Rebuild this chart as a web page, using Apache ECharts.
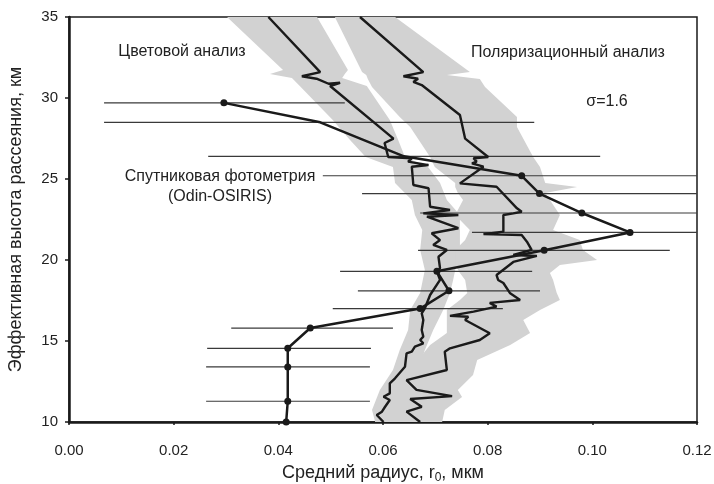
<!DOCTYPE html>
<html><head><meta charset="utf-8">
<script src="https://cdn.jsdelivr.net/npm/echarts@6/dist/echarts.min.js"></script>
<style>html,body{margin:0;padding:0;background:#fff}#c{width:714px;height:484px}</style>
</head><body><div id="c"></div>
<script>
// ---- tick labels ----
const xTickLabels = ['0.00','0.02','0.04','0.06','0.08','0.10','0.12'];
const yTickLabels = ['10','15','20','25','30','35'];

// ---- satellite photometry (Odin-OSIRIS): radius, altitude, error bar ends ----
const satR = [0.0296,0.0480,0.0640,0.0865,0.0899,0.0980,0.1072,0.0908,0.0703,0.0726,0.0671,0.0461,0.0418,0.0418,0.0418,0.0415];
const satH = [29.7,28.5,26.4,25.2,24.1,22.9,21.7,20.6,19.3,18.1,17.0,15.8,14.55,13.4,11.28,10.0];
const satErrLow  = [0.0067,0.0067,0.0266,0.0485,0.0560,0.0671,0.0770,0.0667,0.0518,0.0552,0.0504,0.0310,0.0264,0.0262,0.0262,null];
const satErrHigh = [0.0527,0.0889,0.1015,0.1245,0.1240,0.1290,0.1375,0.1148,0.0885,0.0900,0.0829,0.0619,0.0577,0.0575,0.0575,null];
const satDot = [1,0,0,1,1,1,1,1,1,1,1,1,1,1,1,1];

// ---- colour analysis profile [radius, altitude] ----
const colorProfile = [[0.0381,35.0],[0.0480,31.60],[0.0445,31.34],[0.0473,31.19],[0.0496,30.88],[0.0518,30.94],[0.0499,30.74],[0.0620,27.49],[0.0603,27.22],[0.0610,26.36],[0.0655,26.28],[0.0648,26.07],[0.0687,25.86],[0.0655,25.76],[0.0658,24.63],[0.0687,24.43],[0.0690,23.29],[0.0728,23.09],[0.0677,22.88],[0.0744,22.78],[0.0684,22.67],[0.0744,21.96],[0.0693,21.65],[0.0709,21.23],[0.0696,20.93],[0.0722,20.62],[0.0706,20.20],[0.0709,19.49],[0.0703,19.28],[0.0709,18.77],[0.0690,17.84],[0.0680,17.02],[0.0674,16.71],[0.0677,16.30],[0.0674,15.68],[0.0677,15.27],[0.0671,15.06],[0.0677,14.86],[0.0661,14.65],[0.0655,14.34],[0.0645,14.24],[0.0642,13.41],[0.0623,12.70],[0.0613,12.39],[0.0613,11.77],[0.0601,11.56],[0.0613,11.36],[0.0604,10.94],[0.0598,10.64],[0.0588,10.43],[0.0601,10.0]];

// ---- polarization analysis profile [radius, altitude] ----
const polarProfile = [[0.0556,35.0],[0.0677,31.60],[0.0639,31.34],[0.0667,31.19],[0.0658,30.99],[0.0674,30.80],[0.0747,28.95],[0.0757,27.49],[0.0801,26.36],[0.0773,26.28],[0.0779,26.07],[0.0770,25.97],[0.0792,25.76],[0.0747,24.73],[0.0817,24.52],[0.0856,23.19],[0.0865,22.98],[0.0849,22.88],[0.0830,22.78],[0.0830,21.75],[0.0792,21.60],[0.0865,21.54],[0.0875,21.13],[0.0884,20.62],[0.0849,20.31],[0.0894,20.25],[0.0849,19.88],[0.0817,19.07],[0.0820,18.77],[0.0830,18.58],[0.0843,17.94],[0.0862,17.53],[0.0804,17.35],[0.0817,17.12],[0.0773,16.81],[0.0728,16.55],[0.0763,16.50],[0.0757,16.30],[0.0804,15.48],[0.0785,15.06],[0.0728,14.55],[0.0718,14.34],[0.0722,13.21],[0.0645,12.59],[0.0664,11.98],[0.0732,11.60],[0.0652,11.42],[0.0674,10.94],[0.0645,10.64],[0.0671,10.0]];

// ---- uncertainty bands: altitude, left radius, right radius ----
const colBandH = [35.00,31.73,31.48,31.23,30.74,28.64,27.41,26.36,25.74,24.75,23.70,22.78,21.85,20.62,19.38,18.77,17.96,16.91,15.68,14.44,13.21,11.98,10.74,10.00];
const colBandL = [0.0302,0.0409,0.0384,0.0426,0.0441,0.0504,0.0537,0.0567,0.0619,0.0623,0.0655,0.0661,0.0675,0.0671,0.0680,0.0676,0.0671,0.0652,0.0648,0.0632,0.0619,0.0594,0.0579,0.0585];
const colBandR = [0.0474,0.0533,0.0527,0.0522,0.0569,0.0613,0.0629,0.0642,0.0686,0.0709,0.0722,0.0747,0.0747,0.0747,0.0738,0.0734,0.0728,0.0715,0.0696,0.0680,0.0667,0.0636,0.0623,0.0629];

const polBandH = [35.00,31.60,31.42,31.17,30.68,28.83,28.21,26.36,25.74,24.75,24.51,24.14,23.70,22.78,21.85,21.23,20.62,20.00,19.69,19.20,18.77,17.96,17.53,16.91,16.30,15.49,14.75,13.83,12.90,11.98,11.54,10.74,10.00];
const polBandL = [0.0508,0.0560,0.0568,0.0571,0.0579,0.0632,0.0652,0.0690,0.0699,0.0738,0.0738,0.0743,0.0753,0.0738,0.0766,0.0757,0.0738,0.0738,0.0738,0.0747,0.0757,0.0761,0.0747,0.0722,0.0722,0.0722,0.0690,0.0667,0.0642,0.0613,0.0604,0.0594,0.0604];
const polBandR = [0.0623,0.0766,0.0722,0.0785,0.0795,0.0856,0.0856,0.0887,0.0900,0.0910,0.0971,0.0910,0.0919,0.0938,0.0925,0.0976,0.0982,0.1009,0.0938,0.0919,0.0925,0.0932,0.0938,0.0900,0.0868,0.0881,0.0843,0.0780,0.0772,0.0743,0.0751,0.0718,0.0713];

const FONT = '"Liberation Sans", Arial, sans-serif';
const INK = '#1a1a1a';
const bands = [[colBandH, colBandL, colBandR],[polBandH, polBandL, polBandR]];

const chart = echarts.init(document.getElementById('c'), null, {renderer:'canvas'});

const errData = [];
satH.forEach((h,i)=>{ if(satErrLow[i]!=null) errData.push([satErrLow[i], satErrHigh[i], h]); });

function label(x, y, text){
  return {type:'text', z:100, style:{x:x, y:y, text:text, font:'16px '+FONT, fill:'#222', textAlign:'center', textVerticalAlign:'middle'}};
}

chart.setOption({
  animation: false,
  backgroundColor: '#fff',
  grid: {left:69, right:17, top:17, bottom:62, show:true, borderColor:INK, borderWidth:1.5,
         backgroundColor:'transparent', outerBoundsMode:'none', containLabel:false},
  xAxis: {
    type:'value', min:0, max:0.12, interval:0.02,
    axisLine:{show:true, onZero:false, lineStyle:{color:INK, width:2.5}},
    axisTick:{show:true, length:3, lineStyle:{color:INK, width:1.5}},
    splitLine:{show:false},
    axisLabel:{fontSize:15, color:'#222', fontFamily:FONT, margin:21,
      formatter:(v)=>xTickLabels[Math.round(v/0.02)]},
    name:'Средний радиус, r{sub|0}, мкм', nameLocation:'middle', nameGap:41,
    nameTextStyle:{fontSize:18, color:'#222', fontFamily:FONT,
      rich:{sub:{fontSize:12, verticalAlign:'bottom', padding:[9,0,0,0], fontFamily:FONT, color:'#222'}}}
  },
  yAxis: {
    type:'value', min:10, max:35, interval:5,
    axisLine:{show:true, onZero:false, lineStyle:{color:INK, width:2.5}},
    axisTick:{show:true, length:4, lineStyle:{color:INK, width:1.5}},
    splitLine:{show:false},
    axisLabel:{fontSize:15, color:'#222', fontFamily:FONT, margin:11,
      formatter:(v)=>yTickLabels[Math.round((v-10)/5)]},
    name:'Эффективная высота рассеяния, км', nameLocation:'middle', nameGap:44, nameRotate:90,
    nameTextStyle:{fontSize:18, color:'#222', fontFamily:FONT}
  },
  graphic: [
    label(182, 52, 'Цветовой анализ'),
    label(568, 53, 'Поляризационный анализ'),
    label(607, 102, 'σ=1.6'),
    label(220, 177, 'Спутниковая фотометрия'),
    label(220, 197, '(Odin-OSIRIS)')
  ],
  series: [
    {
      type:'custom', z:1, silent:true,
      data:[[0,10],[1,10]],
      encode:{x:-1, y:-1},
      renderItem:(params, api)=>{
        const b = bands[params.dataIndex];
        const H=b[0], L=b[1], R=b[2];
        const pts=[];
        for(let i=0;i<H.length;i++) pts.push(api.coord([L[i],H[i]]));
        for(let i=H.length-1;i>=0;i--) pts.push(api.coord([R[i],H[i]]));
        return {type:'polygon', shape:{points:pts}, style:{fill:'#d2d2d2', stroke:null}};
      }
    },
    {
      type:'custom', z:2, silent:true,
      data: errData,
      encode:{x:[0,1], y:2},
      renderItem:(params, api)=>{
        const cs = params.coordSys;
        const p1 = api.coord([api.value(0), api.value(2)]);
        const p2 = api.coord([api.value(1), api.value(2)]);
        const x1 = Math.max(cs.x, Math.min(cs.x+cs.width, p1[0]));
        const x2 = Math.max(cs.x, Math.min(cs.x+cs.width, p2[0]));
        return {type:'line', shape:{x1:x1, y1:p1[1], x2:x2, y2:p2[1]}, style:{stroke:'#3a3a3a', lineWidth:1.2}};
      }
    },
    {
      type:'line', z:3, data: colorProfile, showSymbol:false, silent:true,
      lineStyle:{color:INK, width:2.4}, clip:true
    },
    {
      type:'line', z:3, data: polarProfile, showSymbol:false, silent:true,
      lineStyle:{color:INK, width:2.4}, clip:true
    },
    {
      type:'line', z:4, silent:true,
      data: satR.map((r,i)=>({value:[r, satH[i]], symbol: satDot[i] ? 'circle' : 'none'})),
      symbol:'circle', symbolSize:7, showAllSymbol:true,
      lineStyle:{color:INK, width:2.5}, itemStyle:{color:INK}
    }
  ]
});
</script>
</body></html>
